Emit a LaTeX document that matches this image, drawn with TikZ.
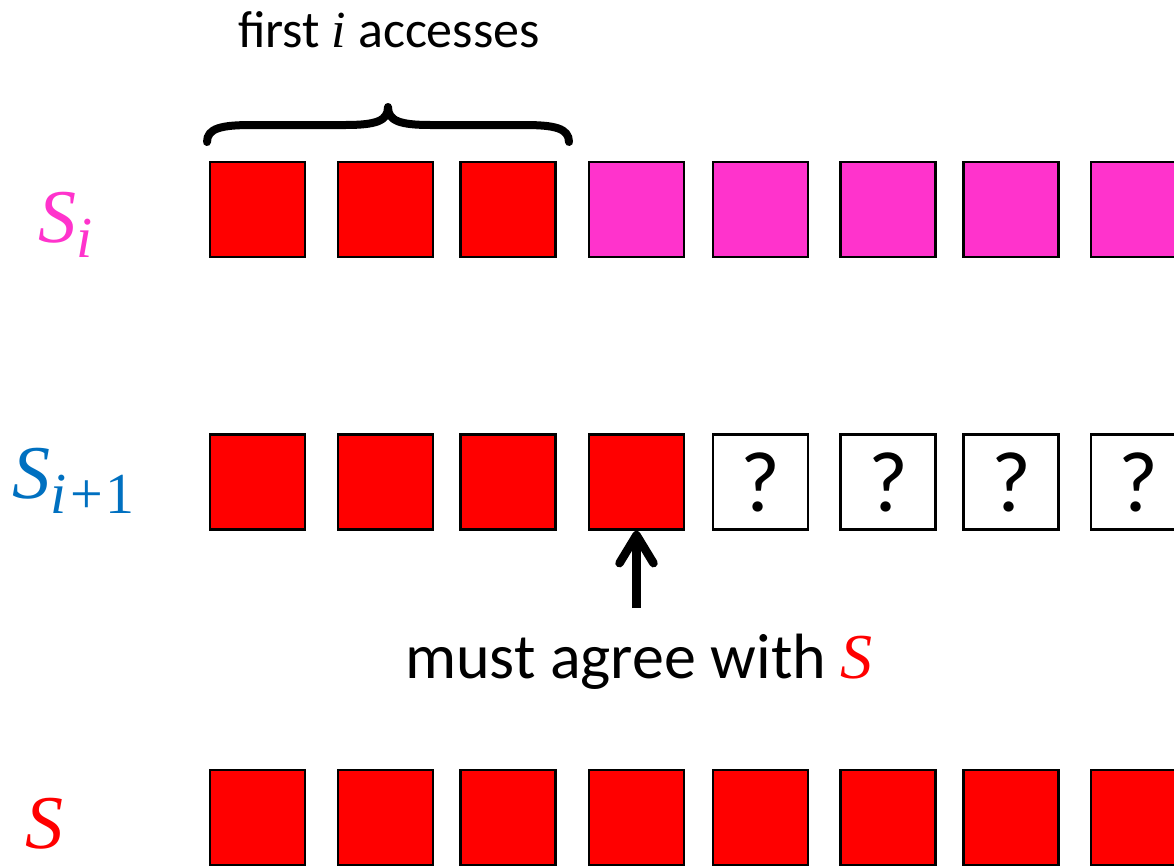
\documentclass[tikz,border=0pt]{standalone}
\usepackage{fontspec}
\setmainfont{Carlito}
\newfontfamily\mfont{Liberation Serif}
\usetikzlibrary{arrows.meta}
\definecolor{pinkS}{HTML}{FF33CC}
\definecolor{blueS}{HTML}{0070C0}
\definecolor{redS}{HTML}{FF0000}
\newcommand{\mvar}[1]{{\mfont\itshape #1}}
\newcommand{\msub}[1]{\raisebox{-15pt}{\fontsize{58}{64}\selectfont #1}}
\begin{document}
\begin{tikzpicture}[x=1pt,y=-1pt,
  cell/.style={draw=black, line width=2.8pt, minimum width=95pt, minimum height=95pt, inner sep=0pt, anchor=center},
  redcell/.style={cell, fill=redS},
  pinkcell/.style={cell, fill=pinkS},
  qcell/.style={cell, fill=white, font=\fontsize{86}{90}\selectfont},
  lbl/.style={anchor=base west, inner sep=0pt, font=\fontsize{76}{80}\selectfont},
  txt/.style={anchor=base west, inner sep=0pt, text=black},
  bracestyle/.style={line width=8pt, line cap=round, line join=round},
  arrowstyle/.style={line width=8.5pt, -{Straight Barb[round, length=28pt, width=34pt]}}]
\clip (0,0) rectangle (1174,865);
% row 1: S_i
\foreach \x [count=\k] in {257.5,385.5,508} {\node[redcell] (a\k) at (\x,209.5) {};}
\foreach \x [count=\k from 4] in {636.5,760.5,888,1011,1138.5} {\node[pinkcell] (a\k) at (\x,209.5) {};}
% row 2: S_{i+1}
\foreach \x [count=\k] in {257.5,385.5,508,636.5} {\node[redcell] (b\k) at (\x,482) {};}
\foreach \x [count=\k from 5] in {760.5,888,1011,1138.5} {\node[qcell] (b\k) at (\x,482) {?};}
% row 3: S
\foreach \x [count=\k] in {257.5,385.5,508,636.5,760.5,888,1011,1138.5} {\node[redcell] (c\k) at (\x,817.5) {};}
% labels
\node[lbl, text=pinkS] (lSi) at (38,242) {\mvar{S}\msub{\mvar{i}}};
\node[lbl, text=blueS] (lSii) at (12,498) {\mvar{S}\msub{\mvar{i}\kern4pt\mfont+\kern3pt1}};
\node[lbl, text=redS] (lS) at (25,848) {\mvar{S}};
% brace
\coordinate (brL) at (207,142);
\coordinate (brM) at (388,107);
\coordinate (brR) at (569,142);
\draw[bracestyle] (brL) .. controls (207,128) and (222,125) .. (252,125) -- (345,125)
  .. controls (376,125) and (388,121) .. (brM)
  .. controls (388,121) and (400,125) .. (431,125) -- (524,125)
  .. controls (554,125) and (569,128) .. (brR);
\node[txt, font=\fontsize{52}{60}\selectfont] (top) at (238,47) {first \mvar{i} accesses};
% arrow and note
\coordinate (tail) at (636.5,608);
\draw[arrowstyle] (tail) -- (b4.south);
\node[txt, font=\fontsize{64}{75}\selectfont] (note) at (405,678) {must agree with \textcolor{redS}{\mvar{S}}};
\end{tikzpicture}
\end{document}
